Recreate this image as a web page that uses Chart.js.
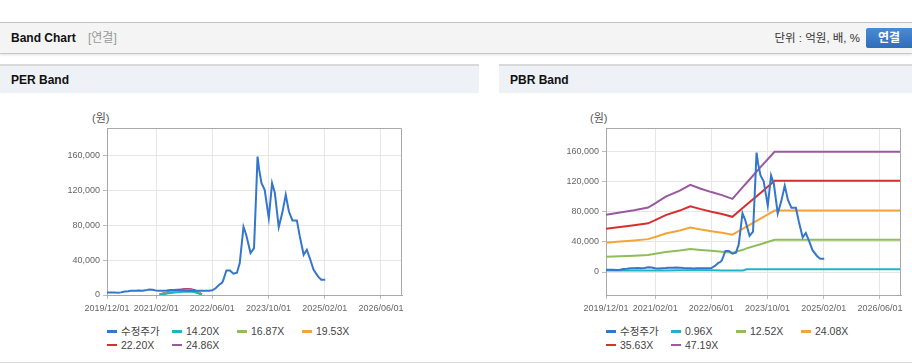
<!DOCTYPE html>
<html><head><meta charset="utf-8">
<script src="https://cdn.jsdelivr.net/npm/chart.js@4"></script>
<style>
body{margin:0;width:912px;height:364px;overflow:hidden;background:#fff;position:relative;font-family:"Liberation Sans","Noto Sans CJK KR",Arial,sans-serif}
.abs{position:absolute}
.hdr{left:0;top:22px;width:912px;height:30px;background:#f4f4f4;border-top:1px solid #c2c2c2;border-bottom:1px solid #c9c9c9;box-shadow:0 1px 2px rgba(0,0,0,.12)}
.ttl{font-weight:bold;font-size:12px;color:#111;line-height:14px}
.sub{font-size:12px;color:#999;line-height:14px}
.unit{font-size:11.5px;color:#333;line-height:14px;text-align:right}
.btn{left:866px;top:28px;width:50px;height:20px;background:linear-gradient(#4a8ad4,#2f6db8);border-radius:2px;color:#fff;font-weight:bold;font-size:12px;line-height:20px;text-indent:12px}
.ph{top:64px;height:27px;background:#eef1f6;border-top:2px solid #d9d9d9}
.won{font-size:11px;color:#555;line-height:12px}
.lg{font-size:10.5px;color:#444;line-height:12px;white-space:nowrap}
.mk{width:10px;height:2.5px}
.bot{left:0;top:362px;width:912px;height:1px;background:#ddd}
</style></head>
<body>
<div class="abs hdr"></div>
<div class="abs ttl" style="left:11px;top:31px">Band Chart</div>
<div class="abs sub" style="left:88px;top:31px">[연결]</div>
<div class="abs unit" style="left:700px;top:31px;width:160px">단위 : 억원, 배, %</div>
<div class="abs btn">연결</div>
<div class="abs ph" style="left:0;width:479px"></div>
<div class="abs ph" style="left:499px;width:413px"></div>
<div class="abs ttl" style="left:11px;top:73px">PER Band</div>
<div class="abs ttl" style="left:510px;top:73px">PBR Band</div>
<div class="abs won" style="left:92px;top:112px">(원)</div>
<div class="abs won" style="left:590px;top:112px">(원)</div>
<div class="abs" style="left:0;top:100px;width:480px;height:220px"><canvas id="per" width="480" height="220"></canvas></div>
<div class="abs" style="left:499px;top:100px;width:413px;height:220px"><canvas id="pbr" width="413" height="220"></canvas></div>
<div id="lgper"></div><div id="lgpbr"></div>
<div class="abs bot"></div>
<script>
// ---- data ----
const xTickLabels = ['2019/12/01','2021/02/01','2022/06/01','2023/10/01','2025/02/01','2026/06/01'];
const xRange = ['2019/12/01','2026/12/01'];
const yTickValues = [0,40000,80000,120000,160000];

const priceDates = ['2019/12/01','2020/01/01','2020/02/01','2020/03/01','2020/04/01','2020/05/01','2020/06/01','2020/07/01','2020/08/01','2020/09/01','2020/10/01','2020/11/01','2020/12/01','2021/01/01','2021/02/01','2021/03/01','2021/04/01','2021/05/01','2021/06/01','2021/07/01','2021/08/01','2021/09/01','2021/10/01','2021/11/01','2021/12/01','2022/01/01','2022/02/01','2022/03/01','2022/04/01','2022/05/01','2022/06/01','2022/07/01','2022/08/01','2022/08/20','2022/09/01','2022/10/01','2022/11/01','2022/12/01','2023/01/01','2023/01/25','2023/02/27','2023/03/20','2023/04/27','2023/05/27','2023/06/12','2023/06/27','2023/07/10','2023/08/01','2023/08/28','2023/10/03','2023/11/01','2023/11/25','2023/12/28','2024/01/28','2024/02/28','2024/03/25','2024/04/25','2024/06/03','2024/06/28','2024/08/01','2024/08/28','2024/09/28','2024/10/25','2024/12/03','2025/01/01','2025/02/05'];
const priceValues = [3000,3000,3000,2600,3000,4000,4200,5000,5000,5200,5000,5300,6200,6000,5000,4800,5000,5200,5600,5800,6000,5800,5200,5000,5000,4800,5000,5000,5000,5000,5300,8000,12000,13500,15600,28000,28000,24300,25500,36600,78000,69000,48000,53700,105000,158400,144000,128000,120300,88000,128000,116600,77700,93700,114600,95500,85300,85300,67000,46000,51800,40300,29000,21300,17500,17500];

const perBandDates = ['2021/03/01','2021/04/01','2021/05/01','2021/06/01','2021/07/01','2021/08/01','2021/09/01','2021/10/01','2021/11/01','2021/12/01','2022/01/01','2022/02/01','2022/03/01'];
const per1420 = [300,950,1600,2250,2750,3200,3550,3850,4000,3850,3100,1900,500];
const per1687 = [360,1130,1900,2670,3270,3800,4220,4570,4750,4570,3680,2260,590];
const per1953 = [420,1310,2200,3090,3780,4400,4880,5290,5500,5290,4260,2610,690];
const per2220 = [480,1490,2500,3510,4300,5000,5550,6010,6250,6010,4840,2970,780];
const per2486 = [540,1670,2800,3930,4820,5600,6210,6730,7000,6730,5420,3330,870];

const pbrBandDates = ['2019/12/01','2020/04/01','2020/08/01','2020/12/01','2021/02/01','2021/05/01','2021/09/01','2021/12/01','2022/03/01','2022/06/01','2022/09/01','2022/12/01','2023/03/01','2023/04/01','2023/08/01','2023/12/01','2026/12/01'];
const pbr096  = [2000,2000,2050,2100,2100,2150,2200,2250,2200,2200,2150,2100,2100,3500,3600,3700,3700];
const pbr1252 = [20100,20900,21700,22700,24100,26500,28600,30600,29300,28100,27000,25700,29400,31300,36800,42800,42800];
const pbr2408 = [38800,40300,41800,43600,46400,51000,55100,58900,56400,54100,52000,49500,57500,60200,70900,81500,81500];
const pbr3563 = [57400,59600,61900,64600,68700,75500,81500,87200,83400,80000,77000,73200,85100,89100,104900,121000,121000];
const pbr4719 = [76000,79000,82000,85500,91000,100000,108000,115500,110500,106000,102000,97000,113000,118000,139000,159500,159500];

const perLabels = ['수정주가','14.20X','16.87X','19.53X','22.20X','24.86X'];
const pbrLabels = ['수정주가','0.96X','12.52X','24.08X','35.63X','47.19X'];
const colors = ['#3476cc','#1fb3c6','#8fbd5a','#f4a53a','#d62f2f','#9a58a0'];

// ---- helpers ----
function monthIndex(s){const p=s.split('/').map(Number);return (p[0]-2019)*12+(p[1]-12)+(p[2]-1)/30;}
function pts(dates, vals){return dates.map((d,i)=>({x:monthIndex(d),y:vals[i]}));}
const xTicks = xTickLabels.map(monthIndex);

const borderPlugin = {id:'pb', afterDraw(c){const a=c.chartArea,ctx=c.ctx;ctx.save();ctx.strokeStyle='#a9a9a9';ctx.lineWidth=1;ctx.beginPath();ctx.moveTo(a.left,a.top+0.5);ctx.lineTo(a.right-0.5,a.top+0.5);ctx.lineTo(a.right-0.5,a.bottom);ctx.stroke();ctx.restore();}};

function makeChart(id, labels, series, dates, yMin, padRight){
  const datasets = series.map((vals,i)=>({
    label: labels[i],
    data: pts(i===0?priceDates:dates, vals),
    borderColor: colors[i], backgroundColor: colors[i],
    borderWidth: 2, pointRadius: 0, tension: 0, fill:false
  }));
  return new Chart(document.getElementById(id), {
    type:'line',
    data:{datasets},
    plugins:[borderPlugin],
    options:{
      responsive:false, animation:false, events:[],
      layout:{padding:{left:0,top:28,right:padRight,bottom:0}},
      plugins:{legend:{display:false},tooltip:{enabled:false}},
      scales:{
        x:{type:'linear',min:monthIndex(xRange[0]),max:monthIndex(xRange[1]),
          afterBuildTicks(s){s.ticks=xTicks.map(v=>({value:v}));},
          afterFit(s){s.height=25;s.paddingLeft=0;s.paddingRight=0;},
          ticks:{autoSkip:false,maxRotation:0,padding:4,color:'#666',font:{family:'Liberation Sans',size:9},callback:(v,i)=>xTickLabels[i]},
          grid:{color:'#e6e6e6',tickLength:4,tickColor:'#bbb'},
          border:{color:'#a9a9a9',width:1}},
        y:{type:'linear',min:yMin,max:191000,
          afterBuildTicks(s){s.ticks=yTickValues.map(v=>({value:v}));},
          afterFit(s){s.width=107;s.paddingTop=0;s.paddingBottom=0;},
          ticks:{padding:3,color:'#666',font:{family:'Liberation Sans',size:9},callback:v=>v.toLocaleString('en-US')},
          grid:{color:'#e6e6e6',tickLength:4,tickColor:'#bbb'},
          border:{color:'#a9a9a9',width:1}}
      }
    }
  });
}

const perChart = makeChart('per', perLabels, [priceValues,per1420,per1687,per1953,per2220,per2486], perBandDates, 0, 78);
const pbrChart = makeChart('pbr', pbrLabels, [priceValues,pbr096,pbr1252,pbr2408,pbr3563,pbr4719], pbrBandDates, -30500, 11);

function htmlLegend(chart, hostId, offsetX){
  const host=document.getElementById(hostId);
  chart.data.datasets.forEach((ds,i)=>{
    const left = offsetX + chart.chartArea.left + (i%4)*65;
    const top = 325 + Math.floor(i/4)*13.5;
    const m=document.createElement('div');m.className='abs mk';m.style.left=left+'px';m.style.top=(top+5)+'px';m.style.background=ds.borderColor;host.appendChild(m);
    const t=document.createElement('div');t.className='abs lg';t.style.left=(left+14)+'px';t.style.top=top+'px';t.textContent=ds.label;host.appendChild(t);
  });
}
htmlLegend(perChart,'lgper',0);
htmlLegend(pbrChart,'lgpbr',499);
</script>
</body></html>
